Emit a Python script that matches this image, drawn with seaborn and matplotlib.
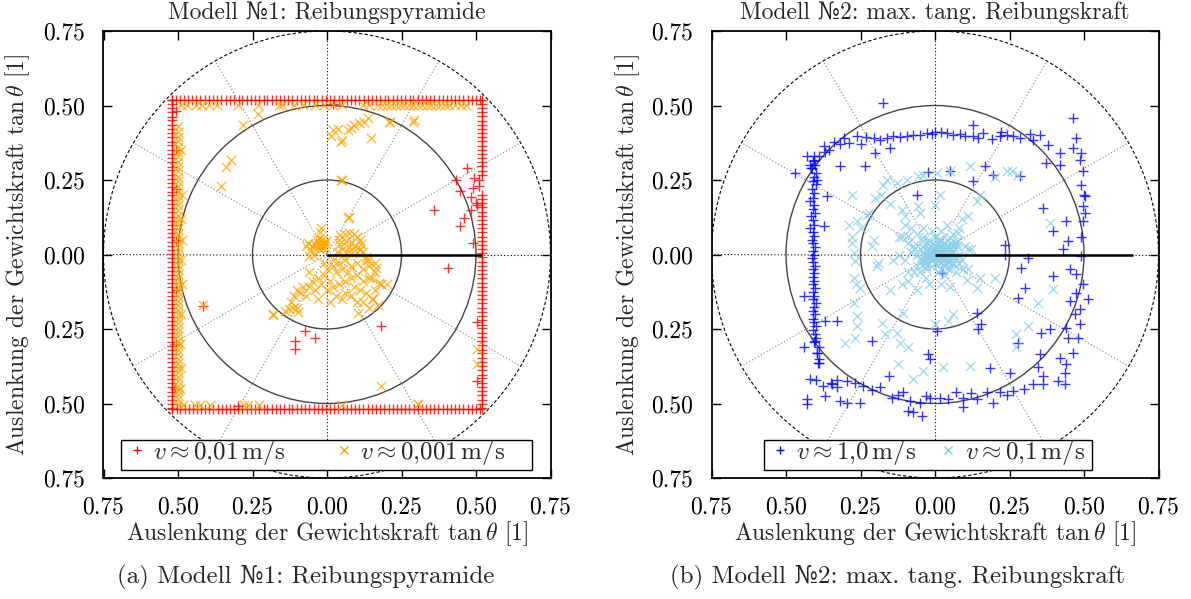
import numpy as np
import matplotlib
matplotlib.use("Agg")
import matplotlib.pyplot as plt
import seaborn as sns
from matplotlib.patches import Circle, Rectangle
from matplotlib.lines import Line2D

# ---------------- data: panel (a) ----------------
tick_vals = [-0.75, -0.5, -0.25, 0.0, 0.25, 0.5, 0.75]
tick_labels = ["0.75", "0.50", "0.25", "0.00", "0.25", "0.50", "0.75"]

titles = ["Modell №1: Reibungspyramide", "Modell №2: max. tang. Reibungskraft"]
captions = ["(a) Modell №1: Reibungspyramide", "(b) Modell №2: max. tang. Reibungskraft"]
series_labels = [[r"$v \approx 0{,}01\,\mathrm{m/s}$", r"$v \approx 0{,}001\,\mathrm{m/s}$"],
                 [r"$v \approx 1{,}0\,\mathrm{m/s}$", r"$v \approx 0{,}1\,\mathrm{m/s}$"]]
axis_label = r"Auslenkung der Gewichtskraft $\tan\theta$ [1]"
raxis_len = [0.52, 0.663]

red_edge = 0.52  # red markers sit on the square |x| = 0.52 or |y| = 0.52
red_top_x = [-0.52, -0.506, -0.493, -0.481, -0.466, -0.452, -0.44, -0.425, -0.41, -0.397, -0.384,
             -0.369, -0.356, -0.34, -0.327, -0.313, -0.296, -0.285, -0.27, -0.255, -0.242, -0.228,
             -0.213, -0.2, -0.186, -0.172, -0.157, -0.143, -0.13, -0.116, -0.102, -0.087, -0.074,
             -0.06, -0.045, -0.032, -0.017, -0.004, 0.011, 0.024, 0.039, 0.052, 0.066, 0.081, 0.094,
             0.108, 0.123, 0.136, 0.15, 0.165, 0.178, 0.193, 0.206, 0.22, 0.235, 0.248, 0.262, 0.277,
             0.29, 0.304, 0.318, 0.333, 0.346, 0.36, 0.375, 0.388, 0.402, 0.417, 0.43, 0.444, 0.458,
             0.472, 0.487, 0.5, 0.514]
red_bottom_x = [-0.52, -0.505, -0.492, -0.478, -0.464, -0.451, -0.437, -0.423, -0.409, -0.395,
                -0.382, -0.367, -0.353, -0.34, -0.326, -0.311, -0.298, -0.284, -0.27, -0.256, -0.241,
                -0.228, -0.213, -0.2, -0.185, -0.171, -0.158, -0.143, -0.129, -0.116, -0.101, -0.088,
                -0.073, -0.06, -0.045, -0.031, -0.018, -0.003, 0.01, 0.025, 0.038, 0.053, 0.066, 0.08,
                0.095, 0.108, 0.122, 0.137, 0.15, 0.164, 0.179, 0.192, 0.207, 0.22, 0.234, 0.249, 0.262,
                0.276, 0.291, 0.304, 0.318, 0.333, 0.346, 0.36, 0.374, 0.389, 0.402, 0.416, 0.431,
                0.444, 0.458, 0.473, 0.486, 0.5, 0.514]
red_left_y = [0.52, 0.505, 0.492, 0.478, 0.463, 0.45, 0.436, 0.421, 0.408, 0.394, 0.379, 0.366,
              0.352, 0.337, 0.324, 0.31, 0.295, 0.282, 0.268, 0.253, 0.24, 0.226, 0.211, 0.198, 0.184,
              0.169, 0.156, 0.142, 0.127, 0.114, 0.1, 0.085, 0.072, 0.058, 0.043, 0.03, 0.016, 0.001,
              -0.012, -0.026, -0.041, -0.054, -0.068, -0.083, -0.096, -0.11, -0.125, -0.138, -0.152,
              -0.167, -0.18, -0.194, -0.209, -0.222, -0.236, -0.251, -0.264, -0.278, -0.293, -0.306,
              -0.32, -0.335, -0.348, -0.362, -0.377, -0.39, -0.404, -0.419, -0.432, -0.446, -0.461,
              -0.474, -0.488, -0.503, -0.516]
red_right_y = [0.52, 0.506, 0.491, 0.478, 0.464, 0.449, 0.436, 0.422, 0.407, 0.394, 0.38, 0.365,
               0.352, 0.338, 0.323, 0.31, 0.296, 0.281, 0.268, 0.2, 0.185, 0.172, 0.158, 0.143, 0.13,
               0.116, 0.101, 0.088, 0.074, 0.059, 0.046, 0.032, 0.017, 0.004, -0.01, -0.025, -0.038,
               -0.052, -0.067, -0.08, -0.094, -0.109, -0.122, -0.136, -0.151, -0.164, -0.178, -0.193,
               -0.206, -0.22, -0.235, -0.248, -0.262, -0.277, -0.29, -0.304, -0.319, -0.332, -0.346,
               -0.361, -0.374, -0.388, -0.403, -0.416, -0.43, -0.445, -0.458, -0.472, -0.487, -0.5,
               -0.514]
red_extra_x = [-0.508, -0.508, -0.508, -0.508, -0.508, -0.508, -0.51, 0.469, 0.492, 0.432, 0.445,
               0.489, 0.482, 0.499, 0.505, 0.482, 0.459, 0.445, 0.358, 0.489, 0.405, 0.505, 0.505,
               0.181, -0.074, -0.039, -0.109, -0.109, -0.416, 0.02, -0.3, 0.51, 0.51]
red_extra_y = [0.48, 0.35, 0.22, 0.05, -0.12, -0.3, -0.45, 0.291, 0.258, 0.251, 0.214, 0.224,
               0.194, 0.174, 0.167, 0.151, 0.124, 0.094, 0.151, 0.04, -0.044, -0.228, -0.425, -0.241,
               -0.257, -0.279, -0.29, -0.316, -0.173, 0.506, -0.507, 0.25, 0.23]

orange_top_level = 0.502
orange_top_x = [-0.49, -0.47, -0.44, -0.42, -0.395, -0.37, -0.3, -0.23, -0.16, -0.15, -0.11, -0.08,
                -0.04, -0.01, 0.02, 0.05, 0.12, 0.14, 0.17, 0.185, 0.2, 0.215, 0.23, 0.245, 0.26,
                0.275, 0.29, 0.305, 0.32, 0.335, 0.35, 0.365, 0.38, 0.395, 0.41, 0.43, 0.45, 0.465]
orange_left_level = -0.5
orange_left_y = [0.43, 0.41, 0.395, 0.38, 0.36, 0.345, 0.33, 0.31, 0.295, 0.28, 0.26, 0.245, 0.23,
                 0.21, 0.195, 0.18, 0.165, 0.15, 0.13, 0.115, 0.1, 0.085, 0.07, 0.055, 0.04, 0.025,
                 0.01, -0.005, -0.02, -0.035, -0.05, -0.065, -0.08, -0.095, -0.11, -0.125, -0.14,
                 -0.155, -0.17, -0.185, -0.2, -0.215, -0.23, -0.245, -0.26, -0.275, -0.29, -0.305,
                 -0.32, -0.335, -0.35, -0.365, -0.38, -0.395, -0.41, -0.425, -0.44, -0.455, -0.47,
                 -0.485, -0.5]
orange_x = [
    # second column along the left edge
    -0.49, -0.488, -0.487, -0.49, -0.486, -0.489, -0.492, -0.49, -0.493, -0.491,
    # bottom edge
    -0.483, -0.444, -0.427, -0.394, -0.277, -0.266, -0.227, 0.052, 0.305, 0.505, 0.505,
    # upper region
    -0.23, 0.21, 0.29, 0.019, 0.036, 0.052, 0.069, 0.092, 0.108, 0.125, 0.136, 0.147, 0.209, 0.292,
    0.013, 0.08, 0.047, -0.282, -0.321, -0.338, -0.357, 0.052, 0.075, 0.069, 0.047,
    # centre blob A
    -0.02, -0.015, -0.025, -0.01, -0.03, -0.018, -0.035, -0.005, -0.028, -0.012, -0.04, -0.022,
    -0.008, -0.032, -0.05, -0.065, -0.055, -0.02, -0.025, -0.045, -0.06, -0.07,
    # ring B
    0.04, 0.045, 0.06, 0.075, 0.09, 0.1, 0.11, 0.115, 0.11, 0.1, 0.085, 0.07, 0.05, 0.04, 0.065,
    0.08, 0.095, 0.12, 0.13, 0.075, 0.055, 0.035,
    # lower band C
    0.02, 0.04, 0.06, 0.08, 0.1, 0.12, 0.14, 0.16, 0.0, 0.03, -0.01, -0.03, 0.01, -0.02, -0.05,
    -0.06, -0.04, -0.08, -0.09, -0.1, -0.11, -0.07, 0.0, 0.02, 0.04, 0.06, 0.08, 0.1, 0.12, 0.14,
    0.16, 0.09, 0.11, 0.13, 0.15, 0.17, 0.14, 0.1, 0.06, 0.03, 0.05, 0.08, 0.12, -0.03, -0.12,
    -0.14, -0.1, 0.16, 0.18, 0.2, 0.02, 0.05, -0.01, 0.07, 0.13, 0.15, -0.06, 0.01, -0.182,
    -0.115, -0.098, 0.103, 0.153, 0.175, 0.164, 0.136,
    # outliers
    -0.182, -0.126, 0.181, 0.304, -0.416]
orange_y = [
    0.35, 0.2, 0.05, -0.02, -0.1, -0.2, -0.3, -0.38, -0.45, 0.12,
    -0.505, -0.505, -0.505, -0.505, -0.505, -0.505, -0.505, -0.505, -0.502, -0.318, -0.368,
    0.47, 0.445, 0.445, 0.419, 0.42, 0.385, 0.419, 0.435, 0.44, 0.446, 0.458, 0.39, 0.446, 0.452,
    0.396, 0.424, 0.379, 0.435, 0.318, 0.294, 0.231, 0.251, 0.126, 0.123, 0.251,
    0.035, 0.04, 0.03, 0.03, 0.04, 0.05, 0.025, 0.045, 0.055, 0.022, 0.035, 0.018,
    0.038, 0.048, 0.03, 0.04, 0.015, 0.09, 0.075, 0.0, -0.005, 0.03,
    0.05, 0.065, 0.07, 0.072, 0.068, 0.06, 0.05, 0.035, 0.02, 0.01, 0.005, 0.01, 0.02, 0.035,
    0.045, 0.04, 0.03, 0.01, -0.01, 0.025, 0.0, 0.01,
    -0.02, -0.03, -0.02, -0.04, -0.03, -0.05, -0.04, -0.03, -0.05, -0.06, -0.07, -0.08, -0.09,
    -0.1, -0.09, -0.11, -0.12, -0.11, -0.13, -0.12, -0.14, -0.14, -0.12, -0.11, -0.1, -0.09,
    -0.08, -0.07, -0.09, -0.08, -0.06, -0.11, -0.12, -0.13, -0.15, -0.17, -0.18, -0.16, -0.13,
    -0.14, -0.15, -0.14, -0.16, -0.15, -0.16, -0.19, -0.18, -0.12, -0.1, -0.1, -0.04, -0.05,
    -0.03, -0.06, -0.02, -0.08, -0.06, -0.16, -0.2, -0.179, -0.193, -0.195, -0.151, -0.095,
    -0.045, -0.017,
    -0.204, -0.184, -0.441, -0.502, -0.17]

# ---------------- data: panel (b) ----------------
blue_x = [
    # top arc
    -0.374, -0.34, -0.307, -0.262, -0.206, -0.162, -0.117, -0.073, -0.028, 0.0, 0.039, 0.084,
    0.128, 0.162, 0.218, 0.262, 0.318, 0.352, -0.29, -0.25, -0.23, -0.185, -0.14, -0.095, -0.05,
    -0.01, 0.02, 0.06, 0.1, 0.145, 0.19, 0.24, 0.285, 0.33, -0.355, -0.32,
    # upper-left corner
    -0.407, -0.39, -0.413, -0.396, -0.43, -0.42, -0.37,
    # left side
    -0.405, -0.41, -0.402, -0.415, -0.398, -0.405, -0.41, -0.4, -0.412, -0.405, -0.41, -0.418,
    -0.405, -0.41, -0.402, -0.415, -0.41, -0.405, -0.418, -0.41, -0.405, -0.412, -0.408, -0.404,
    -0.41, -0.405, -0.412, -0.408, -0.404, -0.41, -0.405, -0.41, -0.405, -0.41, -0.402, -0.408,
    -0.405, -0.41, -0.4, -0.405, -0.41, -0.402, -0.408, -0.405, -0.4, -0.41, -0.402, -0.398,
    -0.405, -0.39, -0.395, -0.388, -0.392,
    # lower-left
    -0.402, -0.396, -0.39, -0.419, -0.43, -0.43, -0.368, -0.4, -0.375,
    # bottom arc
    -0.296, -0.24, -0.184, -0.145, -0.106, -0.084, -0.05, -0.017, 0.017, 0.045, 0.095, 0.14,
    0.173, 0.218, 0.262, 0.329, 0.363, 0.413, 0.435, -0.27, -0.21, -0.125, -0.03, 0.07, 0.12,
    0.24, 0.3, -0.33, -0.35,
    # right side
    0.463, 0.474, 0.463, 0.491, 0.485, 0.497, 0.491, 0.502, 0.497, 0.502, 0.497, 0.441, 0.396,
    0.446, 0.43, 0.491, 0.452, 0.474, 0.396, 0.474, 0.452, 0.513, 0.485, 0.485, 0.441, 0.385,
    0.446, 0.463, 0.418, 0.441, 0.435, 0.352, 0.363, 0.49, 0.495, 0.47, 0.48, 0.5,
    # scattered inner
    0.363, 0.374, 0.418, 0.418, 0.379, 0.285, 0.195, 0.167, 0.128, 0.05, -0.022, 0.128, -0.173,
    -0.469, -0.318, -0.234, -0.151, -0.201, -0.363, -0.374, -0.441, -0.369, -0.329, -0.441,
    -0.212, -0.156, -0.022, -0.017, 0.006, 0.14, 0.156, 0.145, 0.184, 0.251, 0.301, 0.279, 0.29,
    0.312, 0.234, 0.234, 0.357, 0.279, 0.346, 0.022, 0.195, 0.095, -0.045, -0.073, -0.089,
    -0.251, -0.296, -0.318, -0.329, -0.346, 0.22, -0.06]
blue_y = [
    0.363, 0.379, 0.39, 0.396, 0.39, 0.39, 0.394, 0.4, 0.407, 0.411, 0.407, 0.404,
    0.396, 0.407, 0.396, 0.396, 0.405, 0.402, 0.375, 0.37, 0.395, 0.385, 0.398, 0.396, 0.402,
    0.405, 0.41, 0.4, 0.398, 0.392, 0.386, 0.4, 0.39, 0.385, 0.352, 0.37,
    0.318, 0.329, 0.29, 0.251, 0.33, 0.3, 0.345,
    0.33, 0.315, 0.3, 0.29, 0.275, 0.26, 0.248, 0.235, 0.22, 0.205, 0.19, 0.178,
    0.165, 0.152, 0.14, 0.128, 0.115, 0.1, 0.088, 0.075, 0.062, 0.05, 0.038, 0.025,
    0.012, 0.0, -0.012, -0.025, -0.038, -0.05, -0.062, -0.075, -0.088, -0.1, -0.112, -0.125,
    -0.138, -0.15, -0.162, -0.175, -0.188, -0.2, -0.215, -0.228, -0.24, -0.255, -0.268, -0.28,
    -0.295, -0.31, -0.33, -0.35, -0.365,
    -0.29, -0.329, -0.363, -0.419, -0.485, -0.502, -0.474, -0.42, -0.44,
    -0.424, -0.441, -0.446, -0.48, -0.463, -0.491, -0.497, -0.48, -0.48, -0.485, -0.48, -0.485,
    -0.463, -0.463, -0.458, -0.435, -0.435, -0.424, -0.435, -0.43, -0.455, -0.47, -0.475, -0.46,
    -0.465, -0.47, -0.45, -0.42, -0.43,
    0.458, 0.391, 0.357, 0.34, 0.318, 0.279, 0.234, 0.195, 0.162, 0.14, 0.112, 0.112, 0.078,
    0.045, 0.017, -0.006, -0.05, -0.067, -0.073, -0.128, -0.156, -0.151, -0.184, -0.234,
    -0.246, -0.251, -0.279, -0.329, -0.346, -0.368, -0.396, -0.335, -0.407, 0.06, -0.1, -0.2,
    -0.28, 0.2,
    0.156, 0.307, 0.301, 0.34, 0.368, 0.262, 0.268, 0.296, 0.246, 0.279, 0.276, 0.435, 0.508,
    0.273, 0.298, 0.298, 0.357, 0.34, 0.195, 0.095, -0.14, -0.223, -0.223, -0.312, -0.29,
    -0.407, -0.335, -0.352, -0.257, -0.195, -0.234, -0.251, -0.38, -0.396, -0.112, -0.145,
    -0.045, -0.011, 0.033, 0.0, -0.262, -0.296, -0.379, -0.061, -0.497, -0.513, -0.541, -0.53,
    -0.525, -0.497, -0.497, -0.491, -0.446, -0.435, 0.41, 0.2]

sky_x = [
    # dense centre
    0.0, 0.01, -0.01, 0.02, -0.02, 0.01, -0.01, 0.03, -0.03, 0.0, 0.0, 0.02, -0.02, 0.03, -0.03,
    0.04, -0.04, 0.01, -0.01, 0.04, -0.04, 0.05, -0.05, 0.02, -0.02, 0.05, -0.05, 0.03, -0.03,
    0.06, -0.06, 0.0, 0.01, 0.06, -0.06, 0.04, -0.04, 0.07, -0.07, 0.05, -0.05, 0.08, -0.08, 0.02,
    -0.01, 0.03, -0.03, 0.09, -0.09, 0.06, -0.06, 0.07, -0.07, 0.1, -0.1, 0.04, -0.04, 0.02,
    -0.02, 0.11, -0.11, 0.08, -0.09, 0.12, -0.12, 0.05, -0.06, 0.015, -0.005, 0.025, -0.015,
    0.005, 0.035, -0.025, 0.045, -0.035, 0.055, 0.065, 0.075, -0.045,
    # scattered
    -0.279, -0.262, -0.229, -0.279, -0.273, -0.268, -0.273, -0.251, -0.273, -0.262, -0.262,
    -0.301, -0.268, -0.179, -0.168, -0.128, -0.117, -0.089, -0.123, -0.039, -0.073, 0.028,
    0.117, 0.0, 0.045, 0.061, -0.106, 0.273, 0.273, 0.312, 0.346, 0.396, 0.14, 0.201, 0.151,
    0.106, 0.095, 0.112, 0.078, -0.206, -0.195, -0.112, -0.056, 0.0, 0.017, -0.173, -0.128,
    -0.095, -0.056, -0.039, 0.006, 0.05, 0.117, 0.24, 0.279, 0.385, -0.1, -0.089, -0.073,
    -0.16, -0.18, -0.2, -0.15, -0.22, -0.25, -0.21, -0.19, -0.1, -0.08, -0.12, -0.14, -0.09,
    -0.11, -0.15, 0.09, 0.14, 0.2, -0.28, -0.265, -0.29, 0.26, 0.11, -0.05, 0.15]
sky_y = [
    0.0, 0.01, 0.01, -0.01, -0.01, -0.02, -0.02, 0.01, 0.0, 0.03, -0.03, 0.02, 0.02, -0.02,
    -0.03, 0.0, 0.01, 0.04, -0.04, 0.03, 0.03, -0.01, -0.02, 0.05, 0.05, 0.02, 0.02, -0.04,
    -0.05, 0.01, 0.0, 0.06, -0.06, -0.03, -0.04, 0.05, 0.06, 0.04, 0.02, -0.05, -0.06, 0.0,
    0.01, 0.08, 0.08, -0.07, -0.08, -0.02, 0.04, 0.07, 0.07, -0.06, -0.06, 0.03, -0.02, 0.1,
    0.09, -0.1, -0.1, -0.05, 0.06, 0.09, -0.09, 0.02, 0.0, -0.11, -0.12, 0.005, 0.015, -0.005,
    -0.005, -0.012, 0.025, 0.035, -0.025, -0.015, 0.04, -0.01, 0.03, -0.035,
    0.201, 0.112, 0.134, 0.039, 0.006, -0.022, -0.078, -0.112, -0.162, -0.206, -0.24, -0.296,
    -0.279, -0.229, -0.268, -0.262, -0.296, -0.312, -0.368, -0.39, -0.419, -0.379, -0.374,
    -0.234, -0.223, -0.201, -0.195, -0.268, -0.312, -0.24, -0.162, -0.117, -0.112, -0.078,
    -0.078, -0.084, -0.05, 0.017, 0.073, 0.05, -0.039, 0.151, 0.162, 0.167, 0.201, 0.234,
    0.24, 0.251, 0.262, 0.268, 0.273, 0.279, 0.296, 0.279, 0.268, 0.106, 0.1, 0.061, 0.028,
    0.25, 0.2, 0.19, 0.17, 0.14, 0.09, 0.03, -0.03, 0.13, 0.09, 0.06, -0.02, -0.06, -0.1, -0.12,
    0.12, 0.18, 0.26, 0.06, -0.1, 0.1, 0.28, 0.13, 0.14, 0.2]
sky_core_x = [0.005, 0.012, -0.008, 0.018, -0.015, 0.022, -0.004, 0.03, -0.02, 0.008,
              0.014, -0.012, 0.026, -0.026, 0.035, 0.04, -0.03, 0.02, 0.0, 0.032,
              -0.018, 0.045, 0.05, 0.048, -0.04, 0.01, -0.008, 0.03, 0.055, 0.06,
              0.04, 0.065, -0.045, 0.02, 0.07, -0.03, 0.015, 0.075, 0.08, 0.05]
sky_core_y = [0.0, -0.005, 0.004, 0.008, 0.012, -0.012, -0.01, 0.0, -0.004, 0.02,
              -0.02, -0.016, 0.018, 0.01, -0.01, 0.015, -0.01, 0.03, 0.022, -0.028,
              0.028, 0.0, -0.02, 0.03, -0.02, -0.035, 0.04, 0.04, 0.01, -0.035,
              -0.045, 0.025, 0.045, -0.05, -0.01, -0.04, 0.05, 0.045, -0.03, 0.055]

# ---------------- styling ----------------
sns.set_style("white")
plt.rcParams['font.family'] = ['cmr10', 'DejaVu Serif']
plt.rcParams['mathtext.fontset'] = 'cm'
plt.rcParams['axes.unicode_minus'] = False
plt.rcParams['axes.formatter.use_mathtext'] = True

W, H = 1191, 599
fig = plt.figure(figsize=(W / 100, H / 100), dpi=100)


def px_rect(x0, y0, x1, y1):
    return [x0 / W, 1 - y1 / H, (x1 - x0) / W, (y1 - y0) / H]


AX_X0 = [103, 711]
axes = [fig.add_axes(px_rect(103, 31, 551, 478)), fig.add_axes(px_rect(711, 31, 1159, 478))]
FS = 17
LEG_FS = 18
CAP_FS = 18


def polar_grid(ax, r_axis):
    for deg in range(0, 360, 30):
        t = np.deg2rad(deg)
        col = 'black' if deg % 90 == 0 else '#808080'
        ax.plot([0, 0.75 * np.cos(t)], [0, 0.75 * np.sin(t)], ls=(0, (1, 2)), color=col,
                lw=0.8, zorder=1)
    for r in (0.25, 0.5):
        ax.add_patch(Circle((0, 0), r, fill=False, ec='#444444', lw=1.0, zorder=1))
    ax.add_patch(Circle((0, 0), 0.75, fill=False, ec='black', lw=0.8, ls=(0, (3, 2)), zorder=1))
    ax.plot([0, r_axis], [0, 0], color='black', lw=1.8, zorder=6, solid_capstyle='butt')


def setup(ax):
    ax.set_xlim(-0.75, 0.75)
    ax.set_ylim(-0.75, 0.75)
    ax.set_aspect('equal', adjustable='box')
    ax.set_xticks(tick_vals)
    ax.set_xticklabels(tick_labels)
    ax.set_yticks(tick_vals)
    ax.set_yticklabels(tick_labels)
    ax.tick_params(direction='in', length=6.5, width=1.0, top=True, right=True,
                   bottom=True, left=True, labelsize=FS, pad=13, colors='black')
    for s in ax.spines.values():
        s.set_linewidth(1.3)
        s.set_color('black')
    ax.set_xlabel("")
    ax.set_ylabel("")


# panel (a)
ax = axes[0]
polar_grid(ax, raxis_len[0])
rx = list(red_top_x) + list(red_bottom_x) + [-red_edge] * len(red_left_y) + \
    [red_edge] * len(red_right_y) + list(red_extra_x)
ry = [red_edge] * len(red_top_x) + [-red_edge] * len(red_bottom_x) + list(red_left_y) + \
    list(red_right_y) + list(red_extra_y)
sns.scatterplot(x=rx, y=ry, marker='+', color='#ff0000', s=45, linewidth=1.0, alpha=0.8,
                ax=ax, legend=False, zorder=3)
ox = list(orange_top_x) + [orange_left_level] * len(orange_left_y) + list(orange_x)
oy = [orange_top_level] * len(orange_top_x) + list(orange_left_y) + list(orange_y)
sns.scatterplot(x=ox, y=oy, marker='x', color='#ffa500', s=45, linewidth=1.0, alpha=0.75,
                ax=ax, legend=False, zorder=4)
setup(ax)

# panel (b)
ax = axes[1]
polar_grid(ax, raxis_len[1])
sns.scatterplot(x=blue_x, y=blue_y, marker='+', color='#0000ff', s=45, linewidth=1.0,
                alpha=0.8, ax=ax, legend=False, zorder=3)
sns.scatterplot(x=list(sky_x) + list(sky_core_x), y=list(sky_y) + list(sky_core_y), marker='x',
                color='#87ceeb', s=45, linewidth=1.0, alpha=0.75, ax=ax, legend=False, zorder=4)
setup(ax)

# legends: content via ax.legend, box drawn as its own frame
leg_specs = [(('#ff0000', '+'), ('#ffa500', 'x'), (121, 532), 1.82),
             (('#0000ff', '+'), ('#87ceeb', 'x'), (764, 1092), 0.78)]
for i, (a, b, (lx0, lx1), colsp) in enumerate(leg_specs):
    ax = axes[i]
    ax_x0 = AX_X0[i]
    box = Rectangle(((lx0 - ax_x0) / 448, (478 - 470) / 447), (lx1 - lx0) / 448, 30 / 447,
                    transform=ax.transAxes, fc='white', ec='black', lw=1.0, zorder=9,
                    clip_on=False)
    ax.add_patch(box)
    handles = [Line2D([], [], ls='none', marker=a[1], color=a[0], markersize=6, mew=1.0),
               Line2D([], [], ls='none', marker=b[1], color=b[0], markersize=6, mew=1.0)]
    leg = ax.legend(handles, series_labels[i], ncol=2, loc='lower left',
                    bbox_to_anchor=((lx0 - ax_x0) / 448, (478 - 470) / 447),
                    fontsize=LEG_FS, frameon=False, borderpad=0.12, handlelength=1.0,
                    handletextpad=0.15, columnspacing=colsp, borderaxespad=0)
    leg.set_zorder(10)

# titles, labels, captions
centers = [327, 935]
ylab_x = [18, 628]
cap_x = [306, 898]
for i in range(2):
    fig.text(centers[i] / W, 1 - 13 / H, titles[i], ha='center', va='center', fontsize=FS)
    fig.text(centers[i] / W, 1 - 534 / H, axis_label, ha='center', va='center', fontsize=FS)
    fig.text(ylab_x[i] / W, 1 - 255 / H, axis_label, ha='center', va='center', fontsize=FS,
             rotation=90)
    fig.text(cap_x[i] / W, 1 - 577 / H, captions[i], ha='center', va='center', fontsize=CAP_FS)

fig.savefig("out.png", dpi=100)
